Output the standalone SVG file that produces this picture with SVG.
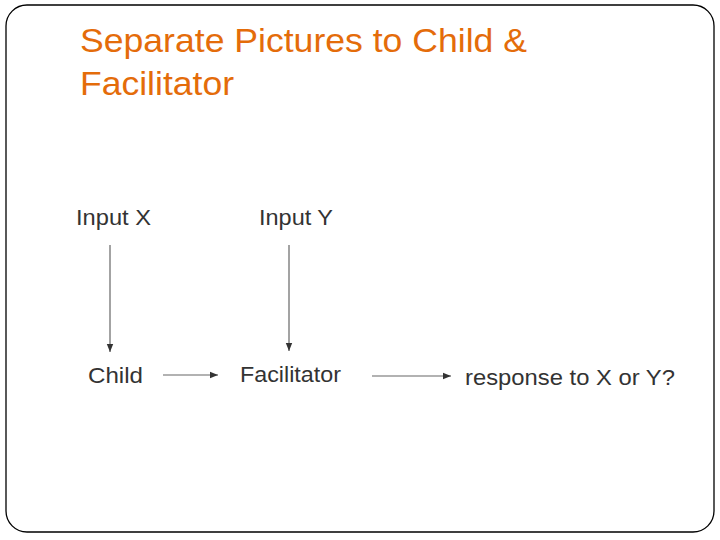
<svg xmlns="http://www.w3.org/2000/svg" width="720" height="540" viewBox="0 0 720 540">
  <style>
    .title { font-family: "Liberation Sans", Arial, sans-serif; font-size: 34px; fill: #E46C0A; }
    .lbl { font-family: "Liberation Sans", Arial, sans-serif; font-size: 22.5px; fill: #333333; }
    .conn { stroke: #666666; stroke-width: 1.2; fill: none; marker-end: url(#arr); }
  </style>
  <defs>
    <marker id="arr" viewBox="0 0 10 10" refX="10" refY="5" markerWidth="8" markerHeight="8" markerUnits="userSpaceOnUse" orient="auto">
      <path d="M0,1 L10,5 L0,9 Z" fill="#333333"/>
    </marker>
  </defs>
  <rect x="0" y="0" width="720" height="540" fill="#ffffff"/>
  <rect id="frame" x="6" y="5" width="708" height="527" rx="21" ry="21" fill="none" stroke="#000000" stroke-width="1.3"/>
  <g id="title">
    <text class="title" x="80" y="52" textLength="447" lengthAdjust="spacingAndGlyphs">Separate Pictures to Child &amp;</text>
    <text class="title" x="80" y="95" textLength="154" lengthAdjust="spacingAndGlyphs">Facilitator</text>
  </g>
  <g id="connectors">
    <line class="conn" x1="110" y1="245" x2="110" y2="352"/>
    <line class="conn" x1="289" y1="245" x2="289" y2="351"/>
    <line class="conn" x1="163" y1="375" x2="218" y2="375"/>
    <line class="conn" x1="372" y1="376" x2="451" y2="376"/>
  </g>
  <g id="inputX"><text class="lbl" x="76" y="225" textLength="75" lengthAdjust="spacingAndGlyphs">Input X</text></g>
  <g id="inputY"><text class="lbl" x="259" y="225" textLength="74" lengthAdjust="spacingAndGlyphs">Input Y</text></g>
  <g id="child"><text class="lbl" x="88" y="383" textLength="55" lengthAdjust="spacingAndGlyphs">Child</text></g>
  <g id="facilitator"><text class="lbl" x="240" y="382" textLength="101" lengthAdjust="spacingAndGlyphs">Facilitator</text></g>
  <g id="response"><text class="lbl" x="465" y="385" textLength="210" lengthAdjust="spacingAndGlyphs">response to X or Y?</text></g>
</svg>
